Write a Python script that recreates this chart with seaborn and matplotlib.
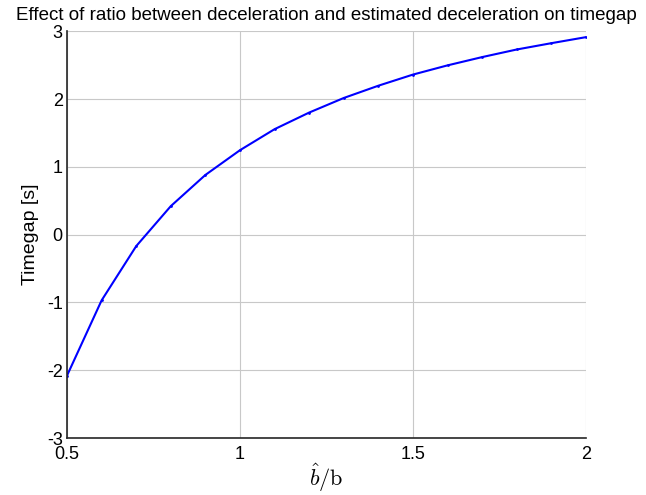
import numpy as np
import matplotlib
matplotlib.use("Agg")
import matplotlib.pyplot as plt
import seaborn as sns

# ratio b_hat / b and resulting timegap
ratio = [0.5, 0.6, 0.7, 0.8, 0.9, 1.0, 1.1, 1.2, 1.3, 1.4, 1.5, 1.6, 1.7, 1.8, 1.9, 2.0]
timegap = [-2.08, -0.97, -0.17, 0.42, 0.88, 1.245, 1.555, 1.80, 2.015, 2.196,
           2.36, 2.496, 2.618, 2.73, 2.823, 2.912]

xticks = [0.5, 1, 1.5, 2]
xtick_labels = ["0.5", "1", "1.5", "2"]
yticks = [-3, -2, -1, 0, 1, 2, 3]
ytick_labels = ["-3", "-2", "-1", "0", "1", "2", "3"]

sns.set_style("white")
plt.rcParams["font.family"] = ["Liberation Sans", "DejaVu Sans"]
plt.rcParams["mathtext.fontset"] = "cm"
plt.rcParams["axes.unicode_minus"] = False

fig = plt.figure(figsize=(6.46, 4.95), dpi=100)
ax = fig.add_axes([0.1037, 0.115, 0.8033, 0.822])

sns.lineplot(x=ratio, y=timegap, ax=ax, color="#0000ff", linewidth=1.5,
             marker=".", markersize=4, markeredgewidth=0)

ax.set_xlim(0.5, 2)
ax.set_ylim(-3, 3)
ax.set_xticks(xticks)
ax.set_xticklabels(xtick_labels)
ax.set_yticks(yticks)
ax.set_yticklabels(ytick_labels)
ax.grid(True, color="#c8c8c8", linewidth=0.8)
ax.tick_params(direction="in", length=4, labelsize=13, color="#262626",
               labelcolor="black")
ax.tick_params(axis="y", pad=3)
ax.tick_params(axis="x", pad=6)
for s in ["top", "right"]:
    ax.spines[s].set_visible(False)
for s in ["left", "bottom"]:
    ax.spines[s].set_color("#262626")
    ax.spines[s].set_linewidth(1.2)

ax.set_title("Effect of ratio between deceleration and estimated deceleration on timegap",
             fontsize=13.5, pad=8, color="black")
ax.set_ylabel("Timegap [s]", fontsize=14, color="black", labelpad=6)
ax.set_xlabel(r"$\hat{b}/\mathrm{b}$", fontsize=16, color="black", labelpad=-1)

fig.savefig("out.png", dpi=100)
